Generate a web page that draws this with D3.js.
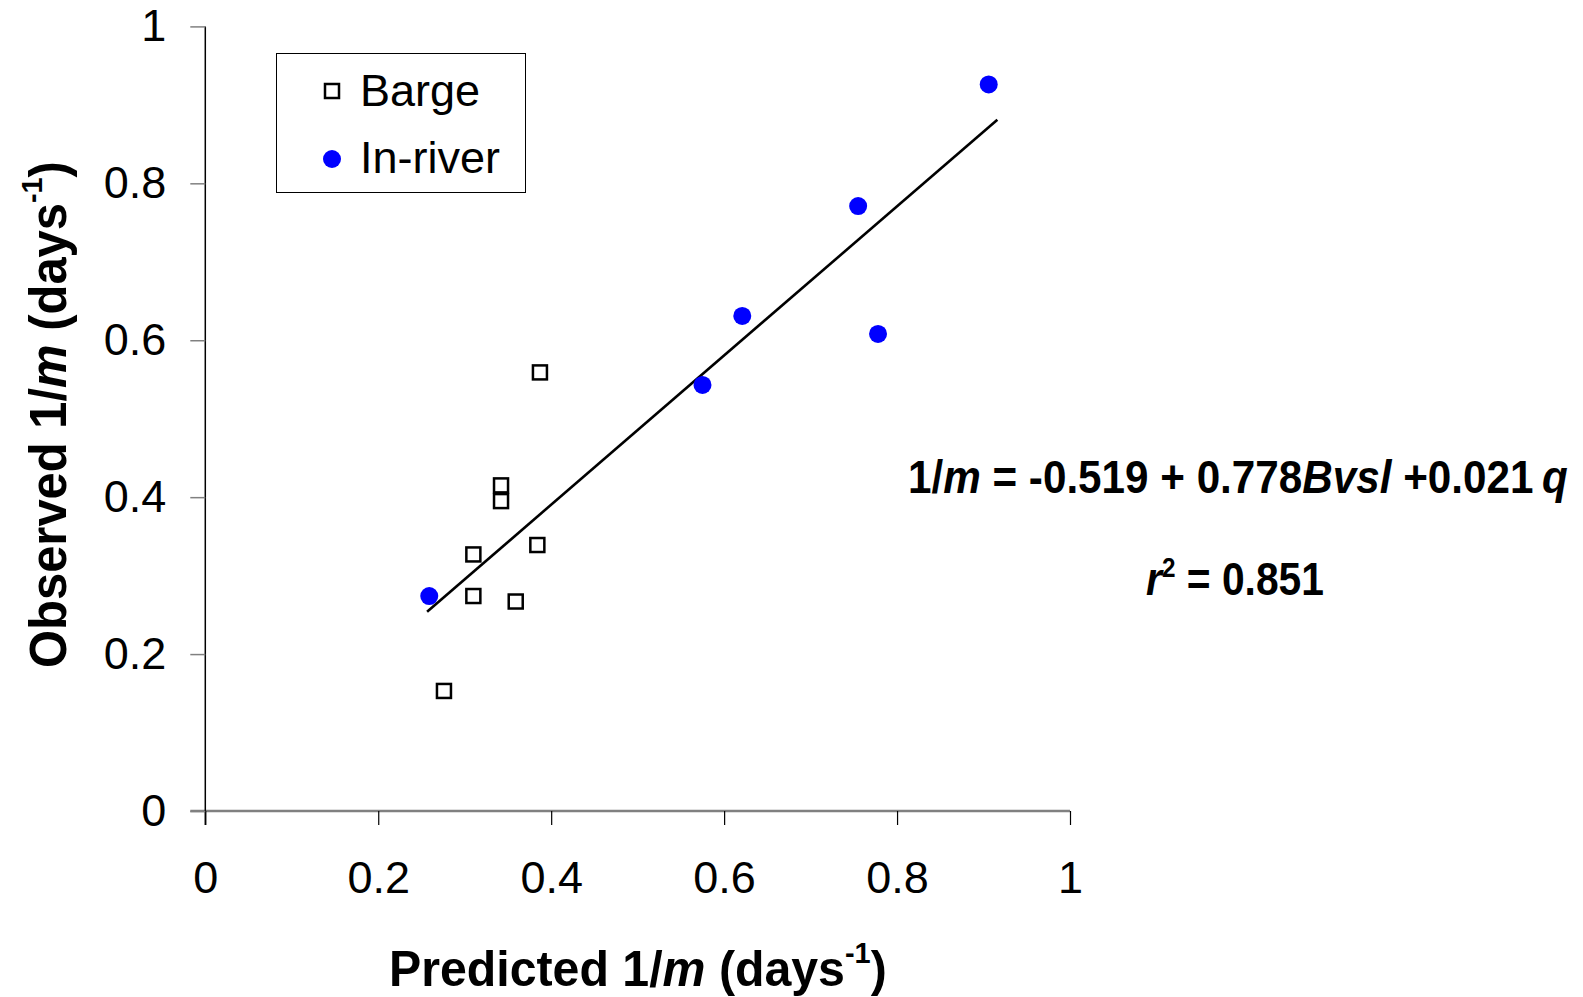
<!DOCTYPE html>
<html><head><meta charset="utf-8">
<script src="https://cdn.jsdelivr.net/npm/d3@7"></script>
<style>
html,body{margin:0;padding:0;background:#fff;}
svg{display:block;font-family:"Liberation Sans",Arial,sans-serif;}
</style></head>
<body>
<svg id="chart" width="1583" height="997"></svg>
<script>
// ---- data ----
const bargeX = [0.387, 0.342, 0.342, 0.310, 0.384, 0.310, 0.359, 0.276];
const bargeY = [0.559, 0.415, 0.395, 0.327, 0.339, 0.274, 0.267, 0.153];
const riverX = [0.906, 0.755, 0.621, 0.778, 0.575, 0.259];
const riverY = [0.926, 0.771, 0.631, 0.608, 0.543, 0.274];
const fitX = [0.2565, 0.916];
const fitY = [0.254, 0.881];
const xTicks = [0, 0.2, 0.4, 0.6, 0.8, 1];
const yTicks = [0, 0.2, 0.4, 0.6, 0.8, 1];
const legendLabels = ["Barge", "In-river"];

const svg = d3.select("#chart");
const x = d3.scaleLinear().domain([0, 1]).range([205.3, 1070]);
const y = d3.scaleLinear().domain([0, 1]).range([811, 26.4]);

// x axis
const gx = svg.append("g").attr("transform", `translate(0,${y(0)})`)
  .call(d3.axisBottom(x).tickValues(xTicks).tickSize(14).tickPadding(36)
    .tickFormat(d => d3.format("")(d)));
gx.select(".domain").attr("stroke", "#808080").attr("stroke-width", 2.5).attr("d", `M${x(0)-15},0H${x(1)}`);
gx.selectAll(".tick line").attr("stroke", "#000").attr("stroke-width", 1.2);
gx.selectAll(".tick text").attr("font-size", 45).attr("fill", "#000").attr("font-family", "Liberation Sans, Arial, sans-serif");

// y axis
const gy = svg.append("g").attr("transform", `translate(${x(0)},0)`)
  .call(d3.axisLeft(y).tickValues(yTicks).tickSize(15).tickPadding(24)
    .tickFormat(d => d3.format("")(d)));
gy.select(".domain").attr("stroke", "#000").attr("stroke-width", 1.5).attr("d", `M0,${y(1)}V${y(0)+14}`);
gy.selectAll(".tick line").attr("stroke", "#808080").attr("stroke-width", 1.5);
gy.selectAll(".tick text").attr("font-size", 45).attr("fill", "#000").attr("font-family", "Liberation Sans, Arial, sans-serif");

// regression line
svg.append("path")
  .datum(fitX.map((d, i) => [d, fitY[i]]))
  .attr("d", d3.line().x(d => x(d[0])).y(d => y(d[1])))
  .attr("stroke", "#000").attr("stroke-width", 2.6).attr("fill", "none");

// barge squares
const sq = 14;
svg.append("g").selectAll("rect").data(bargeX.map((d, i) => [d, bargeY[i]])).join("rect")
  .attr("x", d => x(d[0]) - sq / 2).attr("y", d => y(d[1]) - sq / 2)
  .attr("width", sq).attr("height", sq)
  .attr("fill", "#fff").attr("stroke", "#000").attr("stroke-width", 2.5);

// in-river circles
svg.append("g").selectAll("circle").data(riverX.map((d, i) => [d, riverY[i]])).join("circle")
  .attr("cx", d => x(d[0])).attr("cy", d => y(d[1])).attr("r", 9)
  .attr("fill", "#0000ff");

// legend
const lg = svg.append("g");
lg.append("rect").attr("x", 276.5).attr("y", 53.5).attr("width", 249).attr("height", 139)
  .attr("fill", "#fff").attr("stroke", "#000").attr("stroke-width", 1);
lg.append("rect").attr("x", 332 - sq / 2).attr("y", 91 - sq / 2).attr("width", sq).attr("height", sq)
  .attr("fill", "#fff").attr("stroke", "#000").attr("stroke-width", 2.5);
lg.append("circle").attr("cx", 332).attr("cy", 159).attr("r", 9).attr("fill", "#0000ff");
lg.append("text").attr("x", 360).attr("y", 106).attr("font-size", 45).text(legendLabels[0]);
lg.append("text").attr("x", 360).attr("y", 173).attr("font-size", 45).text(legendLabels[1]);

// helper to fit text width horizontally
function fitWidth(sel, left, width) {
  const bb = sel.node().getBBox();
  const s = width / bb.width;
  sel.attr("transform", `translate(${left},0) scale(${s},1) translate(${-bb.x},0)`);
}

// x title
const xt = svg.append("text").attr("y", 986).attr("font-size", 50).attr("font-weight", "bold");
xt.append("tspan").text("Predicted 1/");
xt.append("tspan").attr("font-style", "italic").text("m");
xt.append("tspan").text("\u00a0(days");
xt.append("tspan").attr("font-size", 30).attr("dy", -23).text("-1");
xt.append("tspan").attr("dy", 23).text(")");
fitWidth(xt, 389, 498);

// y title (rotated)
const ytG = svg.append("g").attr("transform", "translate(66,668) rotate(-90)");
const yt = ytG.append("text").attr("y", 0).attr("font-size", 51).attr("font-weight", "bold");
yt.append("tspan").text("Observed 1/");
yt.append("tspan").attr("font-style", "italic").text("m");
yt.append("tspan").text("\u00a0(days");
yt.append("tspan").attr("font-size", 30).attr("dy", -24).text("-1");
yt.append("tspan").attr("dy", 24).text(")");
fitWidth(yt, 0, 507);

// equation
const eq = svg.append("text").attr("y", 493).attr("font-size", 47).attr("font-weight", "bold");
eq.append("tspan").text("1/");
eq.append("tspan").attr("font-style", "italic").text("m");
eq.append("tspan").text(" = -0.519 + 0.778");
eq.append("tspan").attr("font-style", "italic").text("Bvsl");
eq.append("tspan").text(" +0.021\u2009");
eq.append("tspan").attr("font-style", "italic").text("q");
fitWidth(eq, 908, 660);

const r2 = svg.append("text").attr("y", 595).attr("font-size", 47).attr("font-weight", "bold");
r2.append("tspan").attr("font-style", "italic").text("r");
r2.append("tspan").attr("font-size", 28).attr("dy", -18).text("2");
r2.append("tspan").attr("dy", 18).text(" = 0.851");
fitWidth(r2, 1146, 178);
</script>
</body></html>
